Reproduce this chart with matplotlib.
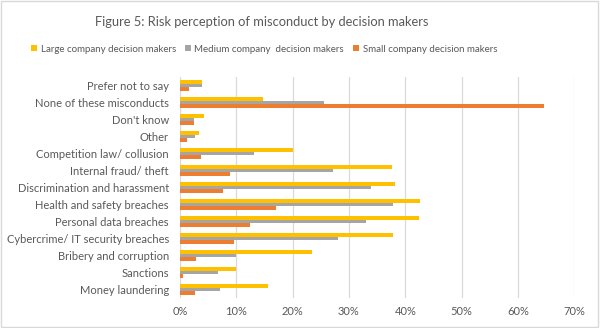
import matplotlib
matplotlib.use("Agg")
import matplotlib.pyplot as plt
import numpy as np
from matplotlib.ticker import FuncFormatter, MultipleLocator
from matplotlib.patches import Rectangle

categories = ["Money laundering", "Sanctions", "Bribery and corruption",
              "Cybercrime/ IT security breaches", "Personal data breaches",
              "Health and safety breaches", "Discrimination and harassment",
              "Internal fraud/ theft", "Competition law/ collusion", "Other",
              "Don't know", "None of these misconducts", "Prefer not to say"]
large = [15.7, 9.9, 23.5, 37.9, 42.4, 42.7, 38.1, 37.7, 20.0, 3.4, 4.3, 14.8, 3.9]
medium = [7.1, 6.7, 9.9, 28.0, 33.1, 37.9, 33.9, 27.1, 13.1, 2.7, 2.4, 25.5, 3.9]
small = [2.6, 0.5, 2.8, 9.6, 12.4, 17.0, 7.6, 8.9, 3.7, 1.2, 2.5, 64.6, 1.6]
series_names = ["Large company decision makers", "Medium company  decision makers",
                "Small company decision makers"]
colors = ["#FFC000", "#A5A5A5", "#ED7D31"]

plt.rcParams['font.family'] = ['Lato', 'DejaVu Sans']
txt = "#595959"

fig = plt.figure(figsize=(6, 3.28), dpi=100)
fig.patches.append(Rectangle((0.002, 0.003), 0.995, 0.993, transform=fig.transFigure,
                             fill=False, edgecolor="#D9D9D9", lw=1))
ax = fig.add_axes([0.3, 0.0915, 0.657, 0.6735])
y = np.arange(len(categories))
h = 0.2
for vals, off, c, name in zip([large, medium, small], [h, 0, -h], colors, series_names):
    ax.barh(y + off, vals, height=h, color=c, label=name)

ax.set_xlim(0, 70)
ax.set_ylim(-0.5, len(categories) - 0.5)
ax.set_yticks(y)
ax.set_yticklabels(categories, fontsize=8, color=txt)
ax.xaxis.set_major_locator(MultipleLocator(10))
ax.xaxis.set_major_formatter(FuncFormatter(lambda v, p: f"{v:.0f}%"))
ax.tick_params(axis='x', labelsize=8, colors=txt, length=0, pad=6)
ax.tick_params(axis='y', length=0, pad=8)
ax.grid(axis='x', color="#D9D9D9", lw=0.9)
ax.set_axisbelow(True)
for s in ax.spines.values():
    s.set_visible(False)

fig.text(0.437, 0.933, "Figure 5: Risk perception of misconduct by decision makers",
         ha='center', va='center', fontsize=9.3, color=txt)
handles, labels = ax.get_legend_handles_labels()
fig.legend(handles, labels, loc='center', bbox_to_anchor=(0.44, 0.85), ncol=3,
           frameon=False, fontsize=7, labelcolor=txt, handlelength=0.6,
           handleheight=0.6, handletextpad=0.4, columnspacing=0.9)

fig.savefig("out.png", dpi=100)
